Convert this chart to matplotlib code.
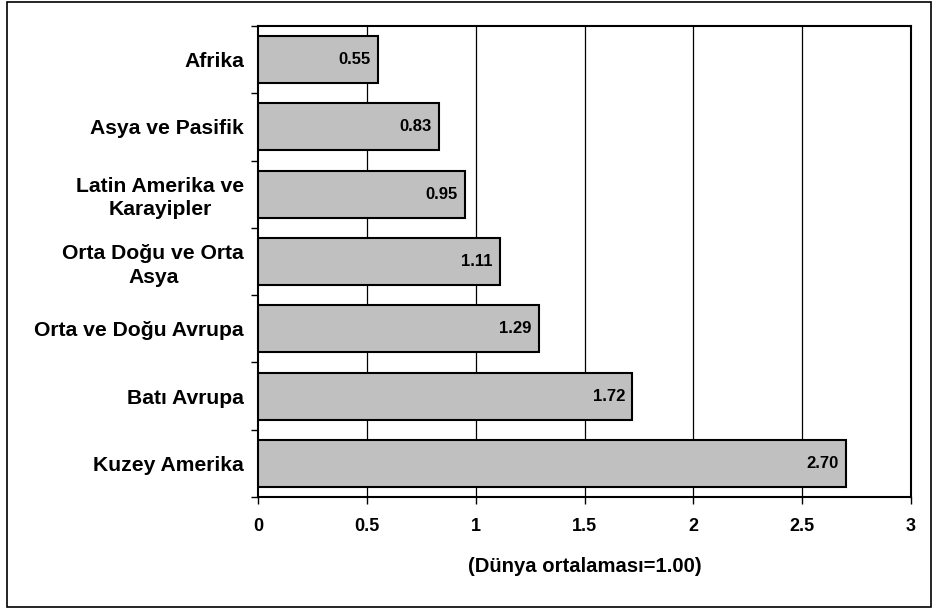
import matplotlib
matplotlib.use("Agg")
import matplotlib.pyplot as plt
from matplotlib.patches import Rectangle
import numpy as np

categories = ["Afrika", "Asya ve Pasifik", "Latin Amerika ve\nKarayipler",
              "Orta Doğu ve Orta\nAsya", "Orta ve Doğu Avrupa", "Batı Avrupa",
              "Kuzey Amerika"]
values = [0.55, 0.83, 0.95, 1.11, 1.29, 1.72, 2.70]
value_labels = ["0.55", "0.83", "0.95", "1.11", "1.29", "1.72", "2.70"]
xticks = [0, 0.5, 1, 1.5, 2, 2.5, 3]
xtick_labels = ["0", "0.5", "1", "1.5", "2", "2.5", "3"]
xlabel = "(Dünya ortalaması=1.00)"

plt.rcParams['font.family'] = ['Liberation Sans', 'DejaVu Sans']
plt.rcParams['font.weight'] = 'bold'

fig = plt.figure(figsize=(9.39, 6.10), dpi=100)
ax = fig.add_axes([258/939, 1-497/610, (911-258)/939, (497-26)/610])

y = np.arange(len(categories))
ax.barh(y, values, height=0.7, color="#C0C0C0", edgecolor="black", linewidth=1.5, zorder=3)
ax.set_ylim(len(categories)-0.5, -0.5)
ax.set_xlim(0, 3)

for yi, v, lab in zip(y, values, value_labels):
    ax.annotate(lab, (v, yi), xytext=(-7, 0), textcoords="offset pixels",
                ha="right", va="center", fontsize=12, fontweight="bold", zorder=4)

ax.set_xticks(xticks)
ax.set_xticklabels(xtick_labels, fontsize=13, fontweight="bold")
ax.set_yticks(y)
ax.set_yticklabels(categories, fontsize=15.2, fontweight="bold", linespacing=1.28,
                   multialignment="center")
ax.tick_params(axis="y", which="major", length=0, pad=10)
ax.set_yticks(np.arange(-0.5, len(categories)), minor=True)
ax.tick_params(axis="y", which="minor", length=5, width=1, direction="out")
ax.tick_params(axis="x", which="major", length=5, width=1, direction="out", pad=10)
for xv in xticks[1:-1]:
    ax.axvline(xv, color="black", linewidth=0.9, zorder=1)
for s in ax.spines.values():
    s.set_linewidth(1.5)

ax.set_xlabel(xlabel, fontsize=14.6, fontweight="bold", labelpad=16)

fig.patches.append(Rectangle((7/939, 3/610), (931-7)/939, (608-3)/610, transform=fig.transFigure,
                             fill=False, edgecolor="black", linewidth=1.2))

fig.savefig("out.png", dpi=100)
